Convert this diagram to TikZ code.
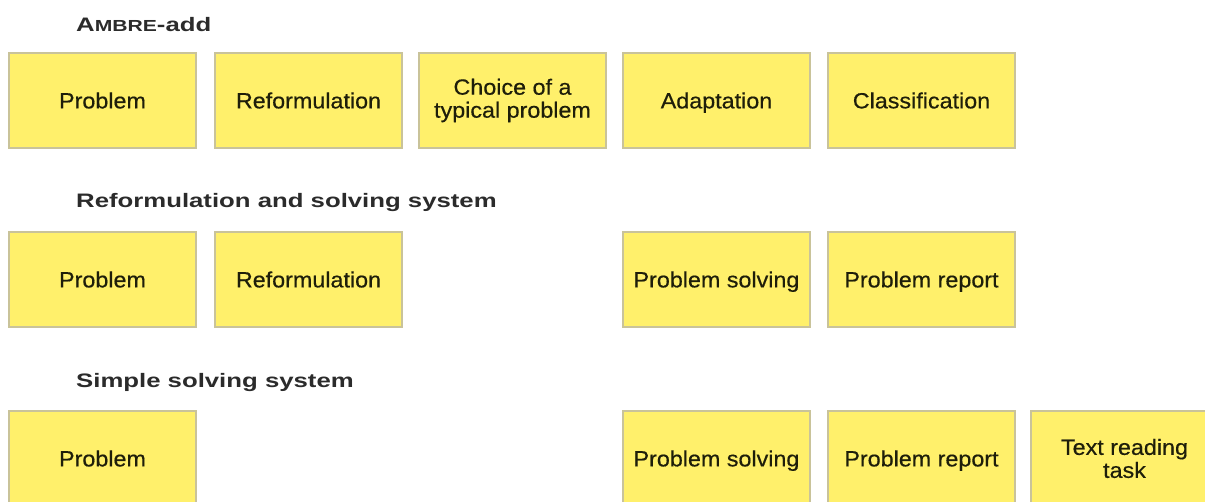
\documentclass[tikz,border=0pt]{standalone}
\usepackage{fontspec}
\setmainfont{Liberation Sans}
\newfontfamily\boxfont[FakeStretch=1.06,FakeBold=0.5]{Liberation Sans}
\newfontfamily\titlefont[FakeStretch=1.32]{Liberation Sans}
\definecolor{boxfill}{HTML}{FFF06B}
\definecolor{boxline}{HTML}{C9C39A}
\definecolor{boxtext}{HTML}{1E1E0A}
\definecolor{titlecol}{HTML}{2B2B2B}
\begin{document}
\begin{tikzpicture}[x=1pt,y=-1pt,
  stepbase/.style={draw=boxline, line width=1.5pt, fill=boxfill,
    minimum width=187pt, minimum height=95pt, inner sep=0pt,
    font=\boxfont\fontsize{22}{23}\selectfont, text=boxtext, align=center},
  stepbox/.style={stepbase, text height=15.75pt, text depth=0pt},
  title/.style={anchor=base west, inner sep=0pt,
    font=\titlefont\bfseries\fontsize{19.5}{20}\selectfont, text=titlecol}
]
\useasboundingbox (0,0) rectangle (1205,502);
\clip (0,0) rectangle (1205,502);
\fill[white] (0,0) rectangle (1205,502);

% titles
\node[title] (t1) at (76,32) {A{\fontsize{16}{16}\selectfont MBRE}-add};
\node[title] (t2) at (76,208) {Reformulation and solving system};
\node[title] (t3) at (76,388) {Simple solving system};

% row 1
\node[stepbox] (a1) at (102.5,100.5) {Problem};
\node[stepbox] (a2) at (308.5,100.5) {Reformulation};
\node[stepbase] (a3) at (512.5,100.5) {Choice of a\\typical problem};
\node[stepbox] (a4) at (716.5,100.5) {Adaptation};
\node[stepbox] (a5) at (921.5,100.5) {Classification};

% row 2
\node[stepbox] (b1) at (102.5,279.5) {Problem};
\node[stepbox] (b2) at (308.5,279.5) {Reformulation};
\node[stepbox] (b3) at (716.5,279.5) {Problem solving};
\node[stepbox] (b4) at (921.5,279.5) {Problem report};

% row 3
\node[stepbox] (c1) at (102.5,458.5) {Problem};
\node[stepbox] (c2) at (716.5,458.5) {Problem solving};
\node[stepbox] (c3) at (921.5,458.5) {Problem report};
\node[stepbase] (c4) at (1124.5,458.5) {Text reading\\task};
\end{tikzpicture}
\end{document}
